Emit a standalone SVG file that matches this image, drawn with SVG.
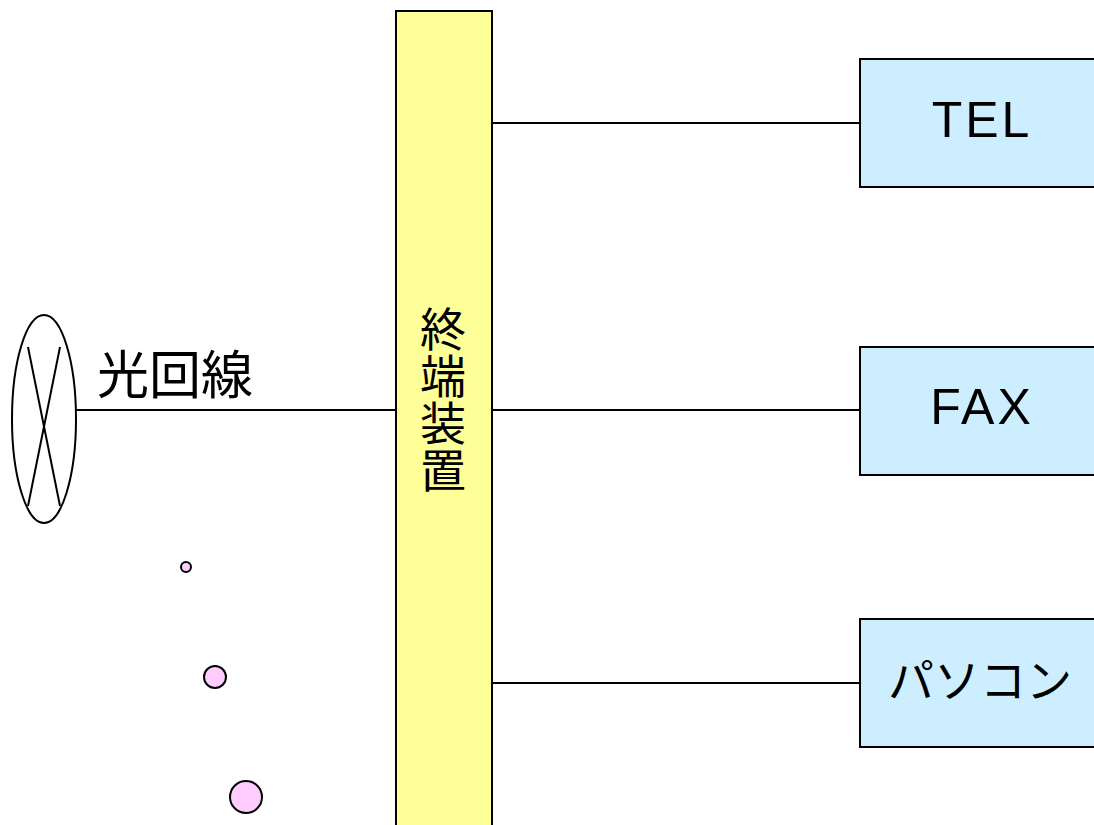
<svg xmlns="http://www.w3.org/2000/svg" width="1094" height="825" viewBox="0 0 1094 825">
<style>
.ln{stroke:#000;stroke-width:2;fill:none}
.box{fill:#cceeff;stroke:#000;stroke-width:2}
.lbl{font-family:"Liberation Sans","Noto Sans CJK JP",sans-serif;fill:#000;text-anchor:middle}
.lat{letter-spacing:3px}
.dot{fill:#ffccff;stroke:#000;stroke-width:2}
</style>
<rect width="1094" height="825" fill="#fff"/>
<g id="connectors">
<line class="ln" x1="76" y1="410" x2="396" y2="410"/>
<line class="ln" x1="492" y1="123" x2="860" y2="123"/>
<line class="ln" x1="492" y1="410" x2="860" y2="410"/>
<line class="ln" x1="492" y1="683" x2="860" y2="683"/>
</g>
<g id="fiber">
<ellipse class="ln" cx="44" cy="419" rx="32" ry="104"/>
<line class="ln" x1="28" y1="347" x2="60" y2="506"/>
<line class="ln" x1="60" y1="347" x2="28" y2="506"/>
<text class="lbl" x="175" y="394" font-size="52">光回線</text>
</g>
<g id="terminal">
<rect x="396" y="11" width="96" height="830" fill="#ffff99" stroke="#000" stroke-width="2"/>
<text class="lbl" font-size="46"><tspan x="443" y="346">終</tspan><tspan x="443" y="393">端</tspan><tspan x="443" y="440">装</tspan><tspan x="443" y="487">置</tspan></text>
</g>
<g id="tel">
<rect class="box" x="860" y="59" width="250" height="128"/>
<text class="lbl lat" x="982" y="137" font-size="50">TEL</text>
</g>
<g id="fax">
<rect class="box" x="860" y="347" width="250" height="128"/>
<text class="lbl lat" x="982" y="424" font-size="50">FAX</text>
</g>
<g id="pc">
<rect class="box" x="860" y="619" width="250" height="128"/>
<text class="lbl" x="980" y="697" font-size="46">パソコン</text>
</g>
<g id="bubbles">
<circle class="dot" cx="186" cy="567" r="5"/>
<circle class="dot" cx="215" cy="677" r="11"/>
<circle class="dot" cx="246" cy="797" r="16"/>
</g>
</svg>
